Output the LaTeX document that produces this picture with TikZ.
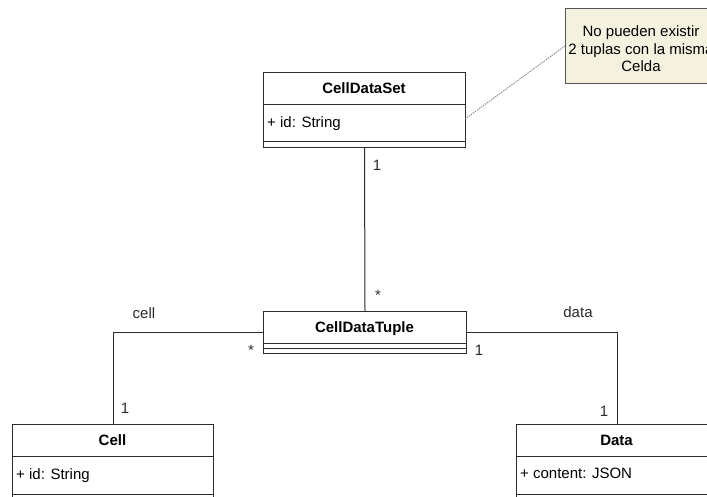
\documentclass[tikz,border=0pt]{standalone}
\usepackage{fontspec}
\setmainfont{Liberation Sans}
\definecolor{linec}{HTML}{2B2B2B}
\definecolor{notefill}{HTML}{F4F2DF}
\definecolor{noteline}{HTML}{555555}
\begin{document}
\begin{tikzpicture}[x=1pt,y=-1pt,
  umlbox/.style={draw=linec, fill=white, line width=1pt, inner sep=0pt, anchor=north west},
  notebox/.style={draw=noteline, fill=notefill, line width=0.9pt, inner sep=0pt, anchor=north west},
  classname/.style={font=\fontsize{15}{18}\selectfont\bfseries, anchor=base, inner sep=0pt},
  attr/.style={font=\fontsize{15}{18}\selectfont, anchor=base west, inner sep=0pt},
  lbl/.style={font=\fontsize{15}{18}\selectfont, anchor=base, inner sep=0pt, text=linec},
  notetext/.style={font=\fontsize{15}{18}\selectfont, anchor=base, inner sep=0pt},
  assoc/.style={draw=linec, line width=1pt},
  sep/.style={draw=linec, line width=1pt},
  noteline/.style={draw=gray, line width=0.8pt, dash pattern=on 1.5pt off 1pt}
]
\useasboundingbox (0,0) rectangle (707,496);
\fill[white] (0,0) rectangle (707,496);
\clip (0,0) rectangle (707,496);

% class boxes
\node[umlbox, minimum width=202pt, minimum height=75pt] (cds) at (263,72) {};
\node[umlbox, minimum width=203pt, minimum height=42pt] (cdt) at (263,311) {};
\node[umlbox, minimum width=201pt, minimum height=90pt] (cell) at (12,424) {};
\node[umlbox, minimum width=201pt, minimum height=90pt] (data) at (516,424) {};

% associations
\draw[assoc] (cds.south) -- (cdt.north);
\draw[assoc] (cdt.west) -| (cell.north);
\draw[assoc] (cdt.east) -| (data.north);

% compartment separators
\draw[sep] ([yshift=-32pt]cds.north west) -- ([yshift=-32pt]cds.north east);
\draw[sep] ([yshift=-69pt]cds.north west) -- ([yshift=-69pt]cds.north east);
\draw[sep] ([yshift=-32pt]cdt.north west) -- ([yshift=-32pt]cdt.north east);
\draw[sep] ([yshift=-37pt]cdt.north west) -- ([yshift=-37pt]cdt.north east);
\draw[sep] ([yshift=-32pt]cell.north west) -- ([yshift=-32pt]cell.north east);
\draw[sep] ([yshift=-70pt]cell.north west) -- ([yshift=-70pt]cell.north east);
\draw[sep] ([yshift=-32pt]data.north west) -- ([yshift=-32pt]data.north east);
\draw[sep] ([yshift=-70pt]data.north west) -- ([yshift=-70pt]data.north east);

% class names and attributes
\node[classname] (cdsname) at (364,93.5) {CellDataSet};
\node[attr] (cdsid) at (267,127) {+ id: String};
\node[classname] (cdtname) at (364.5,332.5) {CellDataTuple};
\node[classname] (cellname) at (112.5,445.5) {Cell};
\node[attr] (cellid) at (16,479) {+ id: String};
\node[classname] (dataname) at (616.5,445.5) {Data};
\node[attr] (datacontent) at (520,478.5) {+ content: JSON};

% association end labels
\node[lbl] (m1) at (377,170) {1};
\node[lbl] (m2) at (378,300.5) {*};
\node[lbl] (rcell) at (144,318) {cell};
\node[lbl] (m3) at (251,355) {*};
\node[lbl] (m4) at (125,413.5) {1};
\node[lbl] (rdata) at (578,317) {data};
\node[lbl] (m5) at (479,355.5) {1};
\node[lbl] (m6) at (604,416.5) {1};

% constraint note (runs past the right edge)
\node[notebox, minimum width=152pt, minimum height=75pt] (note) at (565,8) {};
\node[notetext] (n1) at (641,36) {No pueden existir};
\node[notetext] (n2) at (641,54) {2 tuplas con la misma};
\node[notetext] (n3) at (641,71.5) {Celda};
\coordinate (noteend) at (465,119);
\draw[noteline] (note.west) -- (noteend);
\end{tikzpicture}
\end{document}
